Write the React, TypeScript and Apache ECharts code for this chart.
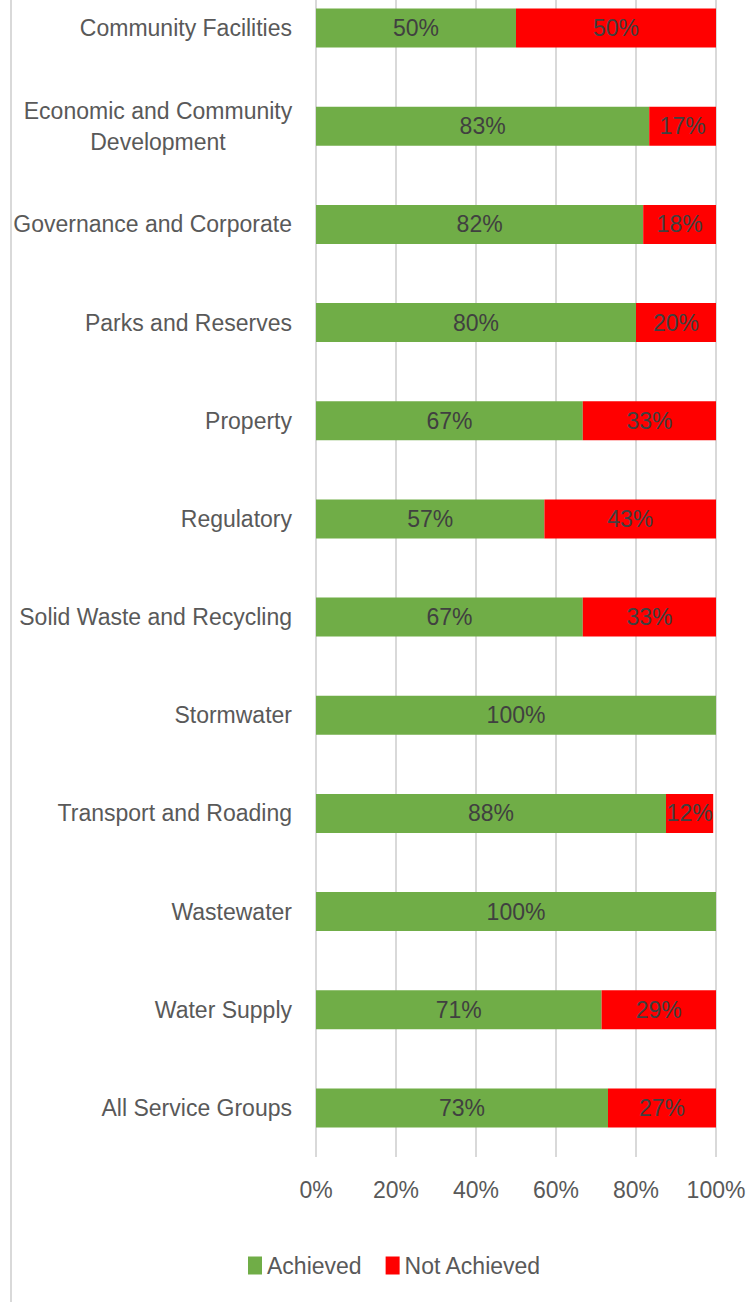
import React, { useEffect, useRef } from "react";
import * as echarts from "echarts";

const categories = [
  "Community Facilities",
  "Economic and Community Development",
  "Governance and Corporate",
  "Parks and Reserves",
  "Property",
  "Regulatory",
  "Solid Waste and Recycling",
  "Stormwater",
  "Transport and Roading",
  "Wastewater",
  "Water Supply",
  "All Service Groups",
];
const achieved = [50, 83.3, 81.8, 80, 66.7, 57.1, 66.7, 100, 87.5, 100, 71.4, 73];
const notAchieved = [50, 16.7, 18.2, 20, 33.3, 42.9, 33.3, 0, 11.8, 0, 28.6, 27];
const xTicks = [0, 20, 40, 60, 80, 100];

const FONT = "'Liberation Sans', Arial, sans-serif";
const FS = 23;

export default function App() {
  const ref = useRef<HTMLDivElement>(null);
  useEffect(() => {
    document.body.style.margin = "0";
    const chart = echarts.init(ref.current!, null, { renderer: "svg" });
    const labelFmt = (p: any) => (p.value ? Math.round(p.value) + "%" : "");
    chart.setOption({
      animation: false,
      backgroundColor: "#ffffff",
      textStyle: { fontFamily: FONT },
      grid: { left: 316, right: 33, top: 0, bottom: 145 },
      legend: {
        data: ["Achieved", "Not Achieved"],
        left: 243,
        top: 1270,
        itemWidth: 14,
        itemHeight: 18,
        itemGap: 24,
        icon: "rect",
        textStyle: { fontSize: FS, color: "#595959", fontFamily: FONT },
      },
      xAxis: {
        type: "value",
        min: xTicks[0],
        max: xTicks[xTicks.length - 1],
        interval: 20,
        axisLine: { show: false },
        axisTick: { show: false },
        splitLine: { lineStyle: { color: "#d9d9d9", width: 2 } },
        axisLabel: {
          formatter: "{value}%",
          fontSize: FS,
          color: "#595959",
          margin: 21,
          fontFamily: FONT,
        },
      },
      yAxis: {
        type: "category",
        data: categories,
        inverse: true,
        axisLine: { show: false },
        axisTick: { show: false },
        axisLabel: {
          fontSize: FS,
          color: "#595959",
          margin: 24,
          fontFamily: FONT,
          formatter: (v: string) =>
            v === "Economic and Community Development"
              ? "{a|Economic and Community}\n{a|Development}"
              : v,
          rich: {
            a: {
              width: 268,
              align: "center",
              fontSize: FS,
              color: "#595959",
              lineHeight: 31,
              fontFamily: FONT,
            },
          },
        },
      },
      series: [
        {
          name: "Achieved",
          type: "bar",
          stack: "total",
          barWidth: 39,
          data: achieved,
          itemStyle: { color: "#70AD47" },
          label: {
            show: true,
            position: "inside",
            formatter: labelFmt,
            fontSize: FS,
            color: "#404040",
            fontFamily: FONT,
          },
        },
        {
          name: "Not Achieved",
          type: "bar",
          stack: "total",
          barWidth: 39,
          data: notAchieved,
          itemStyle: { color: "#FF0000" },
          label: {
            show: true,
            position: "inside",
            formatter: labelFmt,
            fontSize: FS,
            color: "#404040",
            fontFamily: FONT,
          },
        },
      ],
      graphic: [
        {
          type: "line",
          shape: { x1: 11, y1: 0, x2: 11, y2: 1323 },
          style: { stroke: "#d9d9d9", lineWidth: 2 },
        },
      ],
    });
    return () => chart.dispose();
  }, []);
  return (
    <div
      ref={ref}
      style={{ position: "absolute", left: 0, top: -21, width: 749, height: 1323 }}
    />
  );
}
